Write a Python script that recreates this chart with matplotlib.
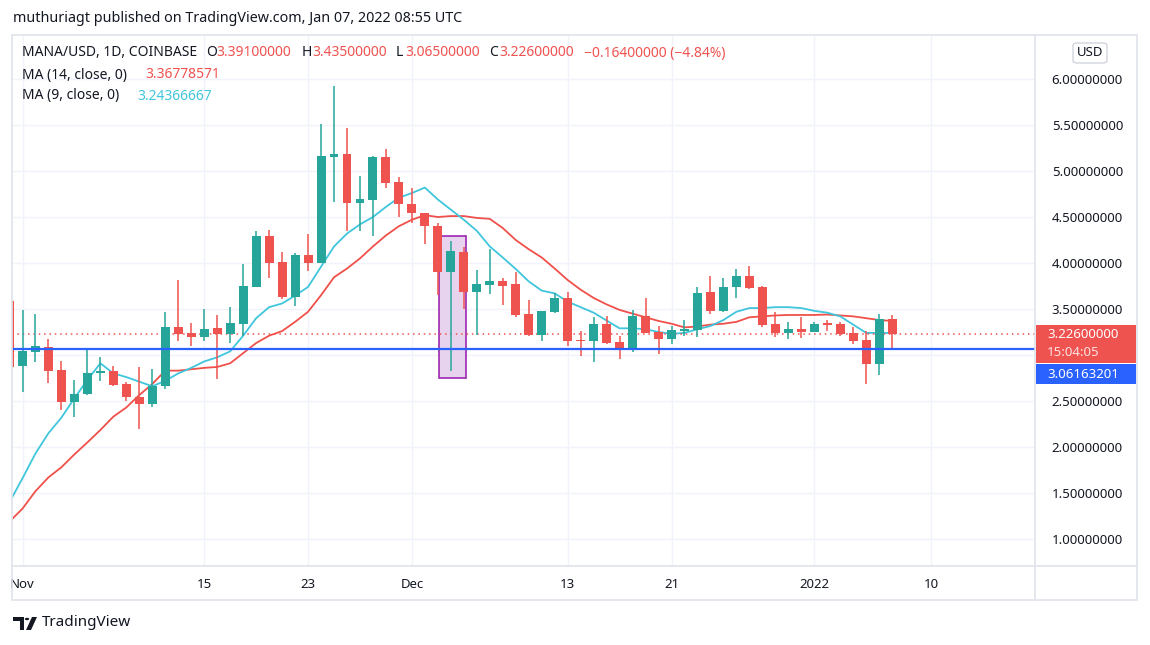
import numpy as np
import pandas as pd
import matplotlib
matplotlib.use("Agg")
import matplotlib.pyplot as plt
from matplotlib.patches import Rectangle, FancyBboxPatch, Polygon

# MANA/USD daily candles, Oct 31 2021 .. Jan 07 2022
dates = pd.date_range("2021-10-31", "2022-01-07", freq="D")
opens = [3.59, 2.88, 3.03, 3.09, 2.84, 2.49, 2.58, 2.80, 2.83, 2.69, 2.54, 2.47, 2.66,
         3.30, 3.24, 3.20, 3.29, 3.23, 3.34, 3.74, 4.29, 4.01, 3.63, 4.09, 4.00, 5.155,
         5.185, 4.655, 4.69, 5.15, 4.88, 4.64, 4.54, 4.40, 3.90, 4.12, 3.69, 3.765, 3.80,
         3.77, 3.445, 3.22, 3.47, 3.62, 3.16, 3.155, 3.34, 3.14, 3.06, 3.42, 3.25, 3.175,
         3.265, 3.27, 3.685, 3.48, 3.74, 3.86, 3.74, 3.34, 3.24, 3.28, 3.255, 3.35, 3.34,
         3.24, 3.16, 2.905, 3.391]
highs = [3.70, 3.49, 3.45, 3.17, 2.93, 2.73, 3.07, 2.98, 2.88, 2.71, 2.87, 2.85, 3.47,
         3.82, 3.35, 3.50, 3.44, 3.52, 3.99, 4.35, 4.36, 4.12, 4.11, 4.31, 5.51, 5.92,
         5.47, 4.95, 5.16, 5.24, 4.94, 4.81, 4.545, 4.43, 4.24, 4.17, 3.92, 4.15, 3.84,
         3.90, 3.60, 3.48, 3.67, 3.68, 3.26, 3.41, 3.42, 3.21, 3.49, 3.62, 3.32, 3.32,
         3.38, 3.74, 3.86, 3.84, 3.935, 3.97, 3.745, 3.47, 3.36, 3.41, 3.36, 3.38, 3.36,
         3.30, 3.265, 3.445, 3.435]
lows = [2.80, 2.60, 2.92, 2.70, 2.40, 2.33, 2.57, 2.72, 2.66, 2.50, 2.20, 2.43, 2.63,
        3.15, 3.10, 3.15, 2.74, 3.13, 3.21, 3.74, 3.84, 3.61, 3.53, 3.91, 4.00, 4.66,
        4.35, 4.35, 4.29, 4.81, 4.50, 4.44, 4.21, 3.65, 2.83, 3.50, 3.22, 3.66, 3.54,
        3.41, 3.21, 3.155, 3.46, 3.10, 2.99, 2.92, 3.12, 2.96, 3.03, 3.235, 3.01, 3.12,
        3.21, 3.20, 3.45, 3.47, 3.62, 3.72, 3.30, 3.20, 3.17, 3.19, 3.25, 3.265, 3.21,
        3.12, 2.68, 2.78, 3.065]
closes = [2.87, 3.04, 3.10, 2.83, 2.49, 2.58, 2.80, 2.83, 2.67, 2.54, 2.47, 2.66, 3.30,
          3.23, 3.20, 3.28, 3.23, 3.35, 3.75, 4.29, 4.00, 3.63, 4.09, 4.00, 5.16, 5.185,
          4.655, 4.70, 5.15, 4.87, 4.645, 4.54, 4.40, 3.90, 4.13, 3.69, 3.77, 3.80, 3.75,
          3.435, 3.22, 3.48, 3.62, 3.155, 3.15, 3.34, 3.135, 3.06, 3.42, 3.24, 3.175, 3.27,
          3.285, 3.67, 3.48, 3.74, 3.86, 3.73, 3.33, 3.24, 3.28, 3.255, 3.34, 3.33, 3.23,
          3.155, 2.905, 3.391, 3.226]

# moving averages as drawn on the chart
ma14 = [1.19, 1.33, 1.52, 1.67, 1.78, 1.92, 2.05, 2.185, 2.33, 2.43, 2.565, 2.685, 2.83,
        2.83, 2.845, 2.86, 2.87, 2.91, 3.02, 3.13, 3.21, 3.26, 3.36, 3.47, 3.65, 3.845,
        3.94, 4.05, 4.18, 4.30, 4.40, 4.47, 4.52, 4.50, 4.51, 4.51, 4.49, 4.48, 4.38,
        4.25, 4.15, 4.06, 3.94, 3.815, 3.71, 3.62, 3.55, 3.49, 3.45, 3.41, 3.37, 3.34,
        3.30, 3.31, 3.33, 3.34, 3.36, 3.41, 3.42, 3.43, 3.435, 3.435, 3.435, 3.44, 3.43,
        3.42, 3.40, 3.38, 3.37]
ma9 = [1.40, 1.66, 1.93, 2.15, 2.32, 2.53, 2.73, 2.91, 2.80, 2.76, 2.71, 2.66, 2.72,
       2.80, 2.86, 2.93, 2.975, 3.04, 3.21, 3.40, 3.52, 3.56, 3.645, 3.74, 3.96, 4.18,
       4.32, 4.42, 4.50, 4.61, 4.71, 4.76, 4.82, 4.69, 4.58, 4.47, 4.35, 4.18, 4.06,
       3.935, 3.80, 3.70, 3.67, 3.58, 3.52, 3.46, 3.375, 3.29, 3.29, 3.28, 3.25, 3.23,
       3.24, 3.28, 3.315, 3.38, 3.47, 3.51, 3.51, 3.52, 3.52, 3.51, 3.48, 3.46, 3.42,
       3.33, 3.24, 3.24, 3.24]

price_ticks = [1.0, 1.5, 2.0, 2.5, 3.0, 3.5, 4.0, 4.5, 5.0, 5.5, 6.0]
date_ticks = ["2021-11-01", "2021-11-15", "2021-11-23", "2021-12-01", "2021-12-13",
              "2021-12-21", "2022-01-01", "2022-01-10"]
date_labels = ["Nov", "15", "23", "Dec", "13", "21", "2022", "10"]

legend_ohlc = ["3.39100000", "3.43500000", "3.06500000", "3.22600000"]
legend_change = "\u22120.16400000 (\u22124.84%)"
ma14_last = "3.36778571"
ma9_last = "3.24366667"
last_price = 3.226
countdown = "15:04:05"
line_price = 3.06163201
box_dates = ["2021-12-03", "2021-12-05"]
box_prices = [2.755, 4.29]

UP = "#26a69a"
DOWN = "#ef5350"
MA14_C = "#f0504a"
MA9_C = "#3fc6dc"
TXT = "#131722"
BORDER = "#e0e3eb"
GRID = "#f0f3fa"

W, H = 1150, 645


def fx(px):
    return px / W


def fy(py):
    return 1 - py / H


def main():
    plt.rcParams["font.family"] = ["Noto Sans", "DejaVu Sans"]

    fig = plt.figure(figsize=(W / 100, H / 100), dpi=100)
    fig.patch.set_facecolor("white")

    # plot area: x 12..1035 px, y 35..566 px
    ax = fig.add_axes([fx(12), fy(566), fx(1035) - fx(12), fy(35) - fy(566)])

    t0 = pd.Timestamp("2021-11-01")
    x = np.array([(d - t0).days for d in dates], dtype=float)
    o = np.array(opens)
    h = np.array(highs)
    l = np.array(lows)
    c = np.array(closes)

    px_per_day = 12.98
    ax.set_xlim((12 - 22.5) / px_per_day, (1035 - 22.5) / px_per_day)
    y_top, y_bot = 6 + (79 - 35) / 92, 6 - (566 - 79) / 92
    ax.set_ylim(y_bot, y_top)

    # grid
    for p in price_ticks:
        ax.axhline(p, color=GRID, lw=1, zorder=0)
    xt = [(pd.Timestamp(d) - t0).days for d in date_ticks]
    for v in xt:
        ax.axvline(v, color=GRID, lw=1, zorder=0)

    # highlighted box (from the Dec 3 candle to the Dec 5 candle)
    bx0 = (pd.Timestamp(box_dates[0]) - t0).days + 0.1
    bx1 = (pd.Timestamp(box_dates[1]) - t0).days + 0.15
    ax.add_patch(Rectangle((bx0, box_prices[0]), bx1 - bx0, box_prices[1] - box_prices[0],
                           facecolor="#e8d3ee", edgecolor="#9c27b0", lw=1.2, zorder=1))

    # moving averages
    ax.plot(x, ma14, color=MA14_C, lw=1.3, zorder=2)
    ax.plot(x, ma9, color=MA9_C, lw=1.3, zorder=2)

    # candles
    colors = np.where(c >= o, UP, DOWN)
    ax.vlines(x, l, h, colors=colors, lw=1.1, zorder=3)
    body_lo = np.minimum(o, c)
    body_h = np.maximum(np.abs(c - o), 0.012)
    ax.bar(x, body_h, bottom=body_lo, width=0.69, color=colors, lw=0, zorder=4)

    # last price and horizontal line
    ax.axhline(last_price, color=DOWN, lw=1.1, ls=(0, (1, 2.5)), zorder=2)
    ax.axhline(line_price, color="#2962ff", lw=1.6, zorder=5)

    ax.set_xticks(xt)
    ax.set_xticklabels(date_labels)
    for lab in ax.get_xticklabels():
        if lab.get_text() == "2022":
            lab.set_fontweight("bold")
    ax.tick_params(axis="x", length=0, pad=9, labelsize=9.5, labelcolor=TXT)

    # the 3.0 label sits under the price tags, so it is left blank
    ax.yaxis.tick_right()
    ax.set_yticks(price_ticks)
    ax.set_yticklabels(["" if p == 3.0 else f"{p:.8f}" for p in price_ticks])
    ax.tick_params(axis="y", length=0, pad=12, labelsize=9.5, labelcolor=TXT)

    for s in ax.spines.values():
        s.set_visible(False)

    # outer frame and separators
    fig.add_artist(Rectangle((fx(12), fy(600)), fx(1137) - fx(12), fy(35) - fy(600),
                             transform=fig.transFigure, fill=False, edgecolor=BORDER, lw=1.2))
    fig.add_artist(plt.Line2D([fx(1035), fx(1035)], [fy(35), fy(600)],
                              transform=fig.transFigure, color=BORDER, lw=1.2))
    fig.add_artist(plt.Line2D([fx(12), fx(1137)], [fy(566), fy(566)],
                              transform=fig.transFigure, color=BORDER, lw=1.2))

    # price tags on the axis
    fig.add_artist(Rectangle((fx(1036), fy(363)), fx(1136) - fx(1036), fy(325) - fy(363),
                             transform=fig.transFigure, facecolor=DOWN, edgecolor="none"))
    fig.add_artist(Rectangle((fx(1036), fy(384)), fx(1136) - fx(1036), fy(364) - fy(384),
                             transform=fig.transFigure, facecolor="#2962ff", edgecolor="none"))
    fig.text(fx(1047), fy(335), f"{last_price:.8f}", color="white", fontsize=9.5,
             va="center", ha="left")
    fig.text(fx(1047), fy(353), countdown, color="#fde2e2", fontsize=9.5,
             va="center", ha="left")
    fig.text(fx(1047), fy(374), f"{line_price:.8f}", color="white", fontsize=9.5,
             va="center", ha="left")

    # currency badge
    fig.add_artist(FancyBboxPatch((fx(1073), fy(63)), fx(1107) - fx(1073), fy(43) - fy(63),
                                  boxstyle="round,pad=0,rounding_size=0.004",
                                  transform=fig.transFigure, facecolor="white",
                                  edgecolor="#d1d4dc", lw=1))
    fig.text(fx(1090), fy(53), "USD", color=TXT, fontsize=9.5, ha="center", va="center")

    # header
    fig.text(fx(13), fy(19), "muthuriagt published on TradingView.com, Jan 07, 2022 08:55 UTC",
             color=TXT, fontsize=10.3, ha="left", va="center")

    # legend lines
    y1, y2, y3 = fy(53), fy(75), fy(96)
    fig.text(fx(22), y1, "MANA/USD, 1D, COINBASE", color=TXT, fontsize=10, va="center")
    pieces = [(206, "O", TXT), (216, legend_ohlc[0], DOWN), (302, "H", TXT),
              (312, legend_ohlc[1], DOWN), (396, "L", TXT), (405, legend_ohlc[2], DOWN),
              (489, "C", TXT), (499, legend_ohlc[3], DOWN), (584, legend_change, DOWN)]
    for px, s, col in pieces:
        fig.text(fx(px), y1, s, color=col, fontsize=10, va="center")
    fig.text(fx(22), y2, "MA (14, close, 0)", color=TXT, fontsize=10, va="center")
    fig.text(fx(145), y2, ma14_last, color=DOWN, fontsize=10, va="center")
    fig.text(fx(22), y3, "MA (9, close, 0)", color=TXT, fontsize=10, va="center")
    fig.text(fx(137), y3, ma9_last, color=MA9_C, fontsize=10, va="center")

    # TradingView logo
    logo = "#131722"
    fig.add_artist(Polygon([(fx(13), fy(617)), (fx(24), fy(617)), (fx(24), fy(630)),
                            (fx(20), fy(630)), (fx(20), fy(621)), (fx(13), fy(621))],
                           closed=True, transform=fig.transFigure, facecolor=logo, edgecolor="none"))
    fig.add_artist(plt.Circle((fx(27), fy(619)), 2.2 / W, transform=fig.transFigure,
                              facecolor=logo, edgecolor="none"))
    fig.add_artist(Polygon([(fx(32), fy(617)), (fx(37), fy(617)), (fx(31), fy(630)),
                            (fx(26), fy(630))],
                           closed=True, transform=fig.transFigure, facecolor=logo, edgecolor="none"))
    fig.text(fx(42), fy(623), "TradingView", color=TXT, fontsize=11, va="center")

    fig.savefig("out.png", dpi=100)
    plt.close(fig)


if __name__ == "__main__":
    main()
